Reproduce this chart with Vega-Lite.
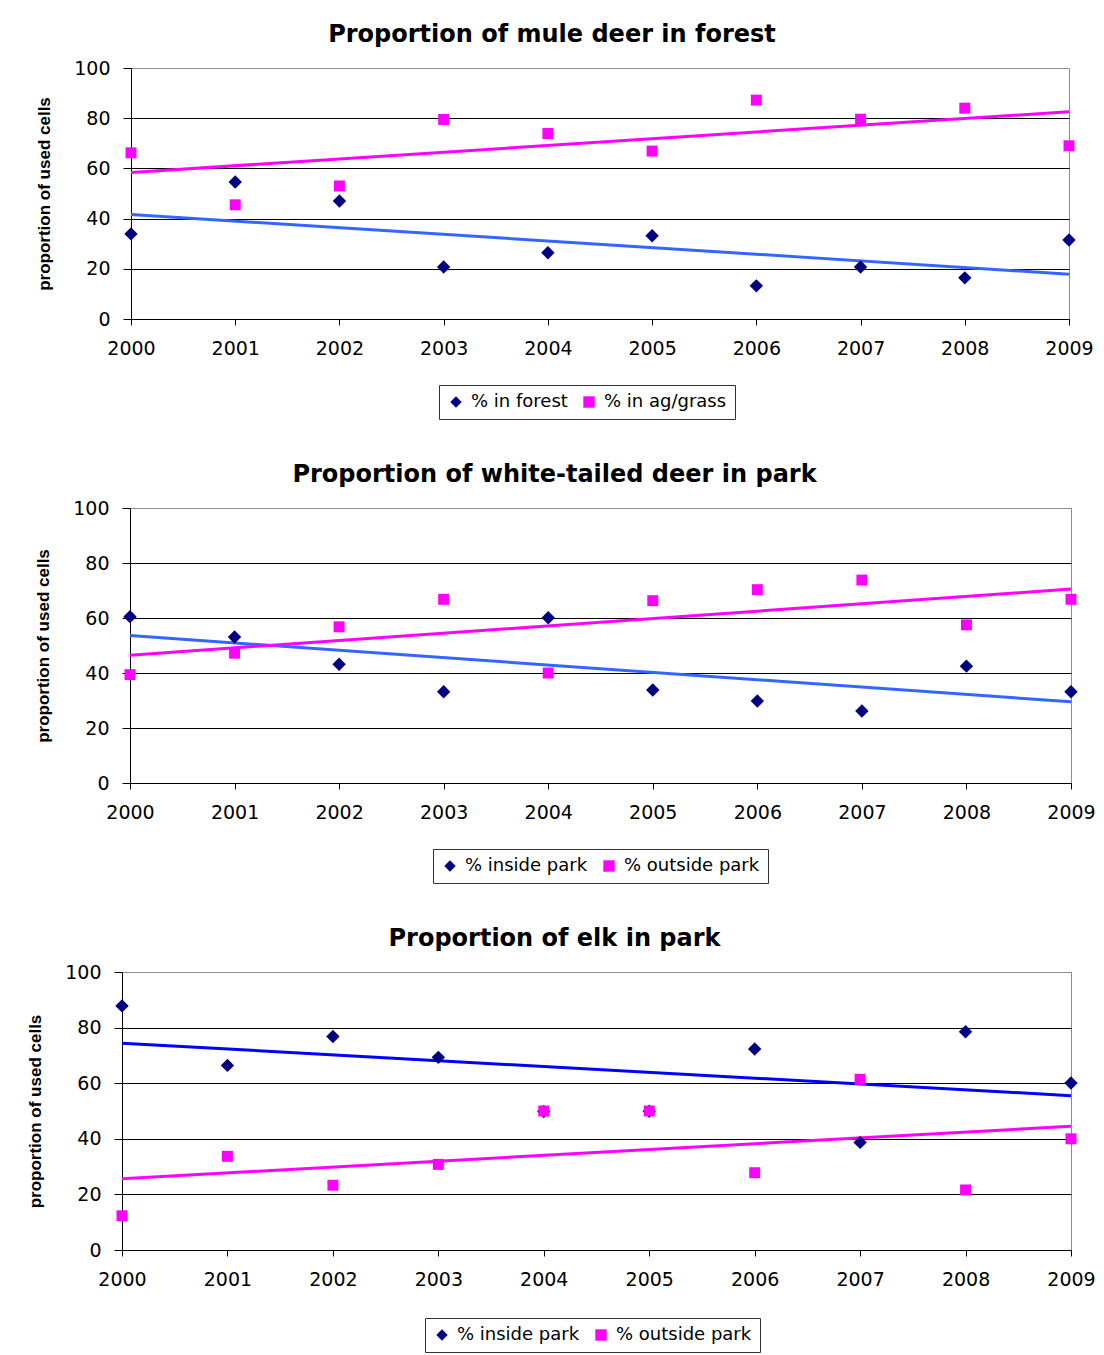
{
  "$schema": "https://vega.github.io/schema/vega-lite/v6.json",
  "padding": {"left": 25, "top": 22, "right": 5, "bottom": 0},
  "background": "#ffffff",
  "spacing": 42,
  "config": {
    "font": "DejaVu Sans",
    "view": {"stroke": "#8c8c8c", "strokeWidth": 1},
    "axis": {"labelFont": "DejaVu Sans", "labelFontSize": 19, "labelColor": "#000", "domainColor": "#000", "tickColor": "#000", "titleFont": "Liberation Sans", "titleFontSize": 17, "titleFontWeight": "bold", "titleColor": "#000"},
    "axisX": {"grid": false, "tickSize": 6, "labelPadding": 14},
    "axisY": {"grid": true, "tickSize": 8, "labelPadding": 13, "titlePadding": 20},
    "legend": {"labelFont": "DejaVu Sans", "labelFontSize": 18, "labelColor": "#000", "strokeColor": "#333333", "padding": 8, "symbolSize": 130, "columnPadding": 12, "labelOffset": 6, "title": null, "direction": "horizontal"},
    "title": {"font": "DejaVu Sans", "fontSize": 24, "fontWeight": "bold", "color": "#000"}
  },
  "datasets": {
    "empty": [],
    "mule": [
      {"year": 2000, "series": "% in forest", "value": 33.9},
      {"year": 2001, "series": "% in forest", "value": 54.6},
      {"year": 2002, "series": "% in forest", "value": 47.0},
      {"year": 2003, "series": "% in forest", "value": 20.7},
      {"year": 2004, "series": "% in forest", "value": 26.4},
      {"year": 2005, "series": "% in forest", "value": 33.2},
      {"year": 2006, "series": "% in forest", "value": 13.2},
      {"year": 2007, "series": "% in forest", "value": 20.7},
      {"year": 2008, "series": "% in forest", "value": 16.4},
      {"year": 2009, "series": "% in forest", "value": 31.5},
      {"year": 2000, "series": "% in ag/grass", "value": 66.2},
      {"year": 2001, "series": "% in ag/grass", "value": 45.5},
      {"year": 2002, "series": "% in ag/grass", "value": 53.0},
      {"year": 2003, "series": "% in ag/grass", "value": 79.5},
      {"year": 2004, "series": "% in ag/grass", "value": 73.9},
      {"year": 2005, "series": "% in ag/grass", "value": 66.9},
      {"year": 2006, "series": "% in ag/grass", "value": 87.2},
      {"year": 2007, "series": "% in ag/grass", "value": 79.6},
      {"year": 2008, "series": "% in ag/grass", "value": 84.0},
      {"year": 2009, "series": "% in ag/grass", "value": 69.0}
    ],
    "wtd": [
      {"year": 2000, "series": "% inside park", "value": 60.5},
      {"year": 2001, "series": "% inside park", "value": 53.1},
      {"year": 2002, "series": "% inside park", "value": 43.2},
      {"year": 2003, "series": "% inside park", "value": 33.2},
      {"year": 2004, "series": "% inside park", "value": 60.1},
      {"year": 2005, "series": "% inside park", "value": 33.8},
      {"year": 2006, "series": "% inside park", "value": 29.8},
      {"year": 2007, "series": "% inside park", "value": 26.2},
      {"year": 2008, "series": "% inside park", "value": 42.5},
      {"year": 2009, "series": "% inside park", "value": 33.2},
      {"year": 2000, "series": "% outside park", "value": 39.4},
      {"year": 2001, "series": "% outside park", "value": 47.2},
      {"year": 2002, "series": "% outside park", "value": 56.8},
      {"year": 2003, "series": "% outside park", "value": 66.8},
      {"year": 2004, "series": "% outside park", "value": 40.0},
      {"year": 2005, "series": "% outside park", "value": 66.3},
      {"year": 2006, "series": "% outside park", "value": 70.3},
      {"year": 2007, "series": "% outside park", "value": 73.8},
      {"year": 2008, "series": "% outside park", "value": 57.5},
      {"year": 2009, "series": "% outside park", "value": 66.8}
    ],
    "elk": [
      {"year": 2000, "series": "% inside park", "value": 87.8},
      {"year": 2001, "series": "% inside park", "value": 66.4},
      {"year": 2002, "series": "% inside park", "value": 76.8},
      {"year": 2003, "series": "% inside park", "value": 69.3},
      {"year": 2004, "series": "% inside park", "value": 49.8},
      {"year": 2005, "series": "% inside park", "value": 49.9},
      {"year": 2006, "series": "% inside park", "value": 72.3},
      {"year": 2007, "series": "% inside park", "value": 38.7},
      {"year": 2008, "series": "% inside park", "value": 78.5},
      {"year": 2009, "series": "% inside park", "value": 60.1},
      {"year": 2000, "series": "% outside park", "value": 12.3},
      {"year": 2001, "series": "% outside park", "value": 33.7},
      {"year": 2002, "series": "% outside park", "value": 23.3},
      {"year": 2003, "series": "% outside park", "value": 30.8},
      {"year": 2004, "series": "% outside park", "value": 50.0},
      {"year": 2005, "series": "% outside park", "value": 50.0},
      {"year": 2006, "series": "% outside park", "value": 27.8},
      {"year": 2007, "series": "% outside park", "value": 61.4},
      {"year": 2008, "series": "% outside park", "value": 21.6},
      {"year": 2009, "series": "% outside park", "value": 40.0}
    ]
  },
  "resolve": {
    "scale": {"x": "independent", "y": "independent", "color": "independent", "shape": "independent", "stroke": "independent", "size": "independent"},
    "legend": {"color": "independent", "shape": "independent"},
    "axis": {"x": "independent", "y": "independent"}
  },
  "vconcat": [
    {
      "spacing": 0,
      "resolve": {
        "scale": {"x": "independent", "y": "independent", "color": "independent", "shape": "independent", "stroke": "independent", "size": "independent"},
        "legend": {"color": "independent", "shape": "independent"},
        "axis": {"x": "independent", "y": "independent"}
      },
      "hconcat": [
        {"width": 10, "height": 1, "view": {"stroke": null}, "data": {"name": "empty"}, "mark": "point"},
        {
          "title": {"text": "Proportion of mule deer in forest", "dx": -48, "baseline": "alphabetic", "offset": -7},
          "width": 938,
          "height": 251,
          "data": {"name": "mule"},
          "encoding": {
            "x": {"field": "year", "type": "quantitative", "scale": {"domain": [2000, 2009], "nice": false, "zero": false}, "axis": {"values": [2000, 2001, 2002, 2003, 2004, 2005, 2006, 2007, 2008, 2009], "format": "d", "labelFlush": false, "title": null}},
            "y": {"field": "value", "type": "quantitative", "scale": {"domain": [0, 100], "nice": false}, "axis": {"values": [0, 20, 40, 60, 80, 100], "title": "proportion of used cells", "gridColor": {"condition": {"test": "datum.value === 100", "value": "#8c8c8c"}, "value": "#000000"}}}
          },
          "layer": [
            {
              "transform": [{"regression": "value", "on": "year", "groupby": ["series"], "extent": [2000, 2009]}],
              "mark": {"type": "line", "strokeWidth": 3},
              "encoding": {"stroke": {"field": "series", "type": "nominal", "scale": {"domain": ["% in ag/grass", "% in forest"], "range": ["#ff00ff", "#3366ff"]}, "legend": null}}
            },
            {
              "mark": {"type": "point", "filled": true, "opacity": 1},
              "encoding": {
                "color": {"field": "series", "type": "nominal", "scale": {"domain": ["% in forest", "% in ag/grass"], "range": ["#000080", "#ff00ff"]}, "legend": {"orient": "none", "legendX": 308, "legendY": 317}},
                "shape": {"field": "series", "type": "nominal", "scale": {"domain": ["% in forest", "% in ag/grass"], "range": ["diamond", "square"]}, "legend": {"orient": "none", "legendX": 308, "legendY": 317}},
                "size": {"field": "series", "type": "nominal", "scale": {"domain": ["% in ag/grass", "% in forest"], "range": [120, 180]}, "legend": null}
              }
            }
          ]
        }
      ]
    },
    {
      "spacing": 0,
      "resolve": {
        "scale": {"x": "independent", "y": "independent", "color": "independent", "shape": "independent", "stroke": "independent", "size": "independent"},
        "legend": {"color": "independent", "shape": "independent"},
        "axis": {"x": "independent", "y": "independent"}
      },
      "hconcat": [
        {"width": 9, "height": 1, "view": {"stroke": null}, "data": {"name": "empty"}, "mark": "point"},
        {
          "title": {"text": "Proportion of white-tailed deer in park", "dx": -46, "baseline": "alphabetic", "offset": -7},
          "width": 941,
          "height": 275,
          "data": {"name": "wtd"},
          "encoding": {
            "x": {"field": "year", "type": "quantitative", "scale": {"domain": [2000, 2009], "nice": false, "zero": false}, "axis": {"values": [2000, 2001, 2002, 2003, 2004, 2005, 2006, 2007, 2008, 2009], "format": "d", "labelFlush": false, "title": null}},
            "y": {"field": "value", "type": "quantitative", "scale": {"domain": [0, 100], "nice": false}, "axis": {"values": [0, 20, 40, 60, 80, 100], "title": "proportion of used cells", "gridColor": {"condition": {"test": "datum.value === 100", "value": "#8c8c8c"}, "value": "#000000"}}}
          },
          "layer": [
            {
              "transform": [{"regression": "value", "on": "year", "groupby": ["series"], "extent": [2000, 2009]}],
              "mark": {"type": "line", "strokeWidth": 3},
              "encoding": {"stroke": {"field": "series", "type": "nominal", "scale": {"domain": ["% outside park", "% inside park"], "range": ["#ff00ff", "#3366ff"]}, "legend": null}}
            },
            {
              "mark": {"type": "point", "filled": true, "opacity": 1},
              "encoding": {
                "color": {"field": "series", "type": "nominal", "scale": {"domain": ["% inside park", "% outside park"], "range": ["#000080", "#ff00ff"]}, "legend": {"orient": "none", "legendX": 303, "legendY": 341}},
                "shape": {"field": "series", "type": "nominal", "scale": {"domain": ["% inside park", "% outside park"], "range": ["diamond", "square"]}, "legend": {"orient": "none", "legendX": 303, "legendY": 341}},
                "size": {"field": "series", "type": "nominal", "scale": {"domain": ["% outside park", "% inside park"], "range": [120, 180]}, "legend": null}
              }
            }
          ]
        }
      ]
    },
    {
      "spacing": 0,
      "resolve": {
        "scale": {"x": "independent", "y": "independent", "color": "independent", "shape": "independent", "stroke": "independent", "size": "independent"},
        "legend": {"color": "independent", "shape": "independent"},
        "axis": {"x": "independent", "y": "independent"}
      },
      "hconcat": [
        {"width": 1, "height": 1, "view": {"stroke": null}, "data": {"name": "empty"}, "mark": "point"},
        {
          "title": {"text": "Proportion of elk in park", "dx": -42, "baseline": "alphabetic", "offset": -7},
          "width": 949,
          "height": 278,
          "data": {"name": "elk"},
          "encoding": {
            "x": {"field": "year", "type": "quantitative", "scale": {"domain": [2000, 2009], "nice": false, "zero": false}, "axis": {"values": [2000, 2001, 2002, 2003, 2004, 2005, 2006, 2007, 2008, 2009], "format": "d", "labelFlush": false, "title": null}},
            "y": {"field": "value", "type": "quantitative", "scale": {"domain": [0, 100], "nice": false}, "axis": {"values": [0, 20, 40, 60, 80, 100], "title": "proportion of used cells", "gridColor": {"condition": {"test": "datum.value === 100", "value": "#8c8c8c"}, "value": "#000000"}}}
          },
          "layer": [
            {
              "transform": [{"regression": "value", "on": "year", "groupby": ["series"], "extent": [2000, 2009]}],
              "mark": {"type": "line", "strokeWidth": 3},
              "encoding": {"stroke": {"field": "series", "type": "nominal", "scale": {"domain": ["% outside park", "% inside park"], "range": ["#ff00ff", "#0000ff"]}, "legend": null}}
            },
            {
              "mark": {"type": "point", "filled": true, "opacity": 1},
              "encoding": {
                "color": {"field": "series", "type": "nominal", "scale": {"domain": ["% inside park", "% outside park"], "range": ["#000080", "#ff00ff"]}, "legend": {"orient": "none", "legendX": 303, "legendY": 346}},
                "shape": {"field": "series", "type": "nominal", "scale": {"domain": ["% inside park", "% outside park"], "range": ["diamond", "square"]}, "legend": {"orient": "none", "legendX": 303, "legendY": 346}},
                "size": {"field": "series", "type": "nominal", "scale": {"domain": ["% outside park", "% inside park"], "range": [120, 180]}, "legend": null}
              }
            }
          ]
        }
      ]
    }
  ]
}
